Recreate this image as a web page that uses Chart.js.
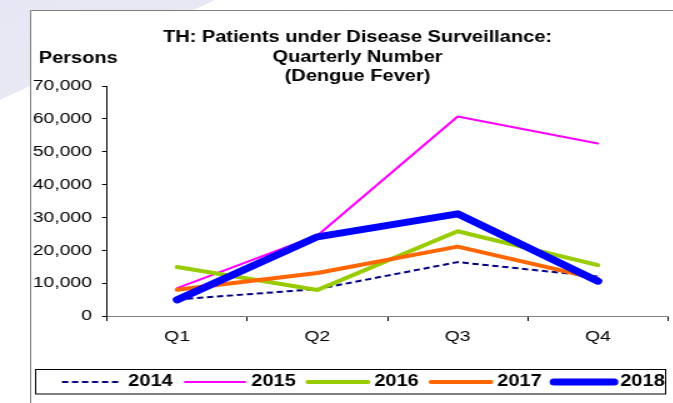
<!doctype html>
<html lang="en">

<head>
  <meta charset="UTF-8">
  <title>TH: Patients under Disease Surveillance</title>
  <style>
    html,
    body {
      margin: 0;
      padding: 0;
      background-color: #fff;
      overflow: hidden;
    }

    #bgshape {
      position: absolute;
      left: 0;
      top: 0;
      width: 673px;
      height: 403px;
      background: linear-gradient(160deg, #e6e6f4, #f6f6fb);
      clip-path: polygon(0 0, 215px 0, 0 100px);
    }

    /* the original picture is stretched sideways, so is the canvas */
    #wrap {
      position: absolute;
      left: 0;
      top: 0;
      transform: scaleX(1.25);
      transform-origin: 0 0;
    }
  </style>
</head>

<body>
  <div id="bgshape"></div>
  <div id="wrap">
    <canvas id="datavis" width="538" height="403" style="width:538px;height:403px"></canvas>
  </div>

  <script src="https://cdn.jsdelivr.net/npm/chart.js@4/dist/chart.umd.min.js"></script>

  <script>
    const quarters = ['Q1', 'Q2', 'Q3', 'Q4'];
    const years = ['2014', '2015', '2016', '2017', '2018'];
    const y2014 = [5000, 8200, 16400, 12000];
    const y2015 = [8500, 24500, 60700, 52500];
    const y2016 = [14900, 7900, 25800, 15500];
    const y2017 = [8000, 13100, 21100, 11300];
    const y2018 = [4900, 24100, 31100, 10600];
    const yTicks = [0, 10000, 20000, 30000, 40000, 50000, 60000, 70000];

    const titleLines = ['TH: Patients under Disease Surveillance:', 'Quarterly Number', '(Dengue Fever)'];
    const FONT = '"Liberation Sans", Arial, Helvetica, sans-serif';

    const colors = ['#000080', '#ff00ff', '#99cc00', '#ff6600', '#0000ff'];
    const widths = [2, 2, 4, 4, 7];
    const series = [y2014, y2015, y2016, y2017, y2018];

    const datasets = years.map(function (y, i) {
      return {
        label: y,
        data: series[i],
        borderColor: colors[i],
        backgroundColor: colors[i],
        borderWidth: widths[i],
        borderDash: i === 0 ? [5, 3] : [],
        borderCapStyle: i === 0 ? 'butt' : 'round',
        borderJoinStyle: 'round',
        pointRadius: 0,
        tension: 0,
        fill: false,
        order: years.length - i
      };
    });

    // frame, title, axis caption and the boxed legend
    const decor = {
      id: 'decor',
      beforeDraw(chart) {
        const ctx = chart.ctx;
        ctx.save();
        ctx.fillStyle = '#fff';
        ctx.fillRect(24, 10, chart.width, chart.height);
        ctx.strokeStyle = '#7f7f7f';
        ctx.lineWidth = 1;
        ctx.beginPath();
        ctx.moveTo(24.5, chart.height + 5);
        ctx.lineTo(24.5, 10.5);
        ctx.lineTo(chart.width + 5, 10.5);
        ctx.stroke();
        ctx.restore();
      },
      afterDraw(chart) {
        const ctx = chart.ctx;
        ctx.save();
        ctx.fillStyle = '#000';
        ctx.textBaseline = 'middle';
        ctx.font = 'bold 16px ' + FONT;
        ctx.textAlign = 'center';
        titleLines.forEach(function (t, i) {
          ctx.fillText(t, 286, 38 + i * 19.5);
        });
        ctx.textAlign = 'left';
        ctx.fillText('Persons', 31, 59);

        // legend
        ctx.strokeStyle = '#000';
        ctx.lineWidth = 1;
        ctx.strokeRect(28.5, 369.5, 504, 24.5);
        chart.data.datasets.forEach(function (ds, i) {
          const x0 = 49.6 + i * 98.4;
          ctx.beginPath();
          ctx.strokeStyle = ds.borderColor;
          ctx.lineWidth = ds.borderWidth;
          ctx.lineCap = ds.borderCapStyle;
          ctx.setLineDash(ds.borderDash);
          ctx.moveTo(x0, 382);
          ctx.lineTo(x0 + 48, 382);
          ctx.stroke();
          ctx.setLineDash([]);
          ctx.fillStyle = '#000';
          ctx.font = 'bold 16px ' + FONT;
          ctx.textAlign = 'left';
          ctx.fillText(ds.label, x0 + 53, 382);
        });
        ctx.restore();
      }
    };

    new Chart('datavis', {
      type: 'line',
      data: {
        labels: quarters,
        datasets: datasets
      },
      options: {
        responsive: false,
        animation: false,
        layout: {
          padding: { top: 86, right: 3.6, bottom: 0, left: 0 }
        },
        plugins: {
          legend: { display: false },
          title: { display: false },
          tooltip: { enabled: false }
        },
        scales: {
          x: {
            offset: true,
            afterFit(scale) { scale.height = 87; },
            grid: {
              offset: true,
              drawOnChartArea: false,
              drawTicks: true,
              tickLength: 5,
              color: '#000'
            },
            border: { display: true, color: '#808080', width: 1 },
            ticks: {
              color: '#000',
              padding: 6,
              font: { family: FONT, size: 15.5 }
            }
          },
          y: {
            min: 0,
            max: 70000,
            afterFit(scale) { scale.width = 85.6; },
            afterBuildTicks(scale) {
              scale.ticks = yTicks.map(v => ({ value: v }));
            },
            grid: {
              drawOnChartArea: false,
              drawTicks: true,
              tickLength: 4,
              color: '#000'
            },
            border: { display: true, color: '#000', width: 1 },
            ticks: {
              color: '#000',
              padding: 8,
              font: { family: FONT, size: 15.5 },
              callback: v => v.toLocaleString('en-US')
            }
          }
        }
      },
      plugins: [decor]
    });
  </script>
</body>

</html>
